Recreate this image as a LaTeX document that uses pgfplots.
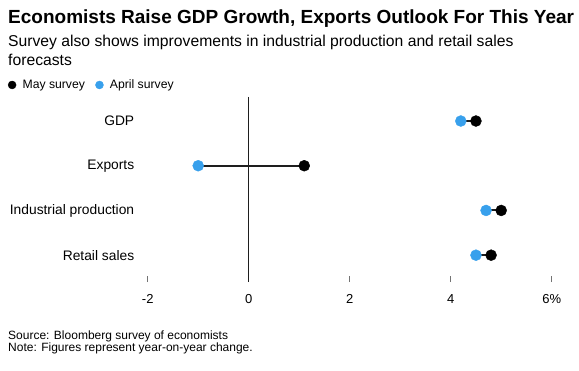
\documentclass[border=0pt]{standalone}
\usepackage{pgfplots}
\pgfplotsset{compat=1.18}
\usepackage{fontspec}
\setmainfont{Liberation Sans}
\definecolor{aprblue}{RGB}{56,160,236}
\definecolor{linegray}{RGB}{30,30,30}
\begin{document}
\begin{tikzpicture}[x=1bp,y=1bp]
\path[use as bounding box] (0,0) rectangle (579,370);
\node[anchor=base west, inner sep=0pt, font=\fontsize{19bp}{22bp}\selectfont\bfseries] at (8,370-23.3) {Economists Raise GDP Growth, Exports Outlook For This Year};
\node[anchor=base west, inner sep=0pt, font=\fontsize{15.7bp}{19bp}\selectfont] at (8,370-46.7) {Survey also shows improvements in industrial production and retail sales};
\node[anchor=base west, inner sep=0pt, font=\fontsize{15.7bp}{19bp}\selectfont] at (8,370-65.7) {forecasts};
\node[anchor=base west, inner sep=0pt, font=\fontsize{12bp}{14bp}\selectfont] at (8,370-339.3) {Source: Bloomberg survey of economists};
\node[anchor=base west, inner sep=0pt, font=\fontsize{12bp}{14bp}\selectfont] at (8,370-351.7) {Note: Figures represent year-on-year change.};
\begin{axis}[
  at={(147.7bp,88bp)}, anchor=south west,
  scale only axis, width=404bp, height=185bp,
  xmin=-2, xmax=6, ymin=-0.537, ymax=3.60, y dir=reverse,
  axis line style={draw=none},
  xtick={-2,0,2,4,6}, xticklabels={-2,0,2,4,6\%},
  xtick pos=bottom, tick align=inside, major tick length=6bp,
  x tick style={black!55, line width=0.7bp},
  xticklabel style={font=\fontsize{13bp}{15bp}\selectfont, yshift=-9bp},
  ytick={0,1,2,3}, yticklabels={GDP,Exports,Industrial production,Retail sales},
  y tick style={draw=none},
  yticklabel style={font=\fontsize{13.8bp}{15bp}\selectfont, anchor=east, xshift=-10bp},
  unbounded coords=jump,
  clip=false,
  legend style={at={(-0.346,1.065)}, anchor=west, draw=none, fill=none, inner xsep=0pt, inner ysep=0pt,
    font=\fontsize{12.2bp}{14bp}\selectfont, legend columns=2,
    /tikz/every even column/.append style={column sep=8.5bp}},
  legend image code/.code={\draw[#1, mark size=4bp] plot coordinates {(0bp,0bp)}; \path[draw=none,fill=none] (-4bp,0bp) -- (8.5bp,0bp);},
]
\addplot[forget plot, linegray, line width=0.8bp] coordinates {(0,-0.537) (0,3.6)};
\addplot[forget plot, linegray, line width=2bp] coordinates {
(4.2,0) (4.5,0) (nan,nan)
(-1.0,1) (1.1,1) (nan,nan)
(4.7,2) (5.0,2) (nan,nan)
(4.5,3) (4.8,3)};
\addplot[only marks, mark=*, mark size=5.5bp, black, mark options={draw=black, fill=black}] coordinates {
(4.5,0) (1.1,1) (5.0,2) (4.8,3)};
\addlegendentry{May survey}
\addplot[only marks, mark=*, mark size=5.5bp, aprblue, mark options={draw=aprblue, fill=aprblue}] coordinates {
(4.2,0) (-1.0,1) (4.7,2) (4.5,3)};
\addlegendentry{April survey}
\end{axis}
\end{tikzpicture}
\end{document}
